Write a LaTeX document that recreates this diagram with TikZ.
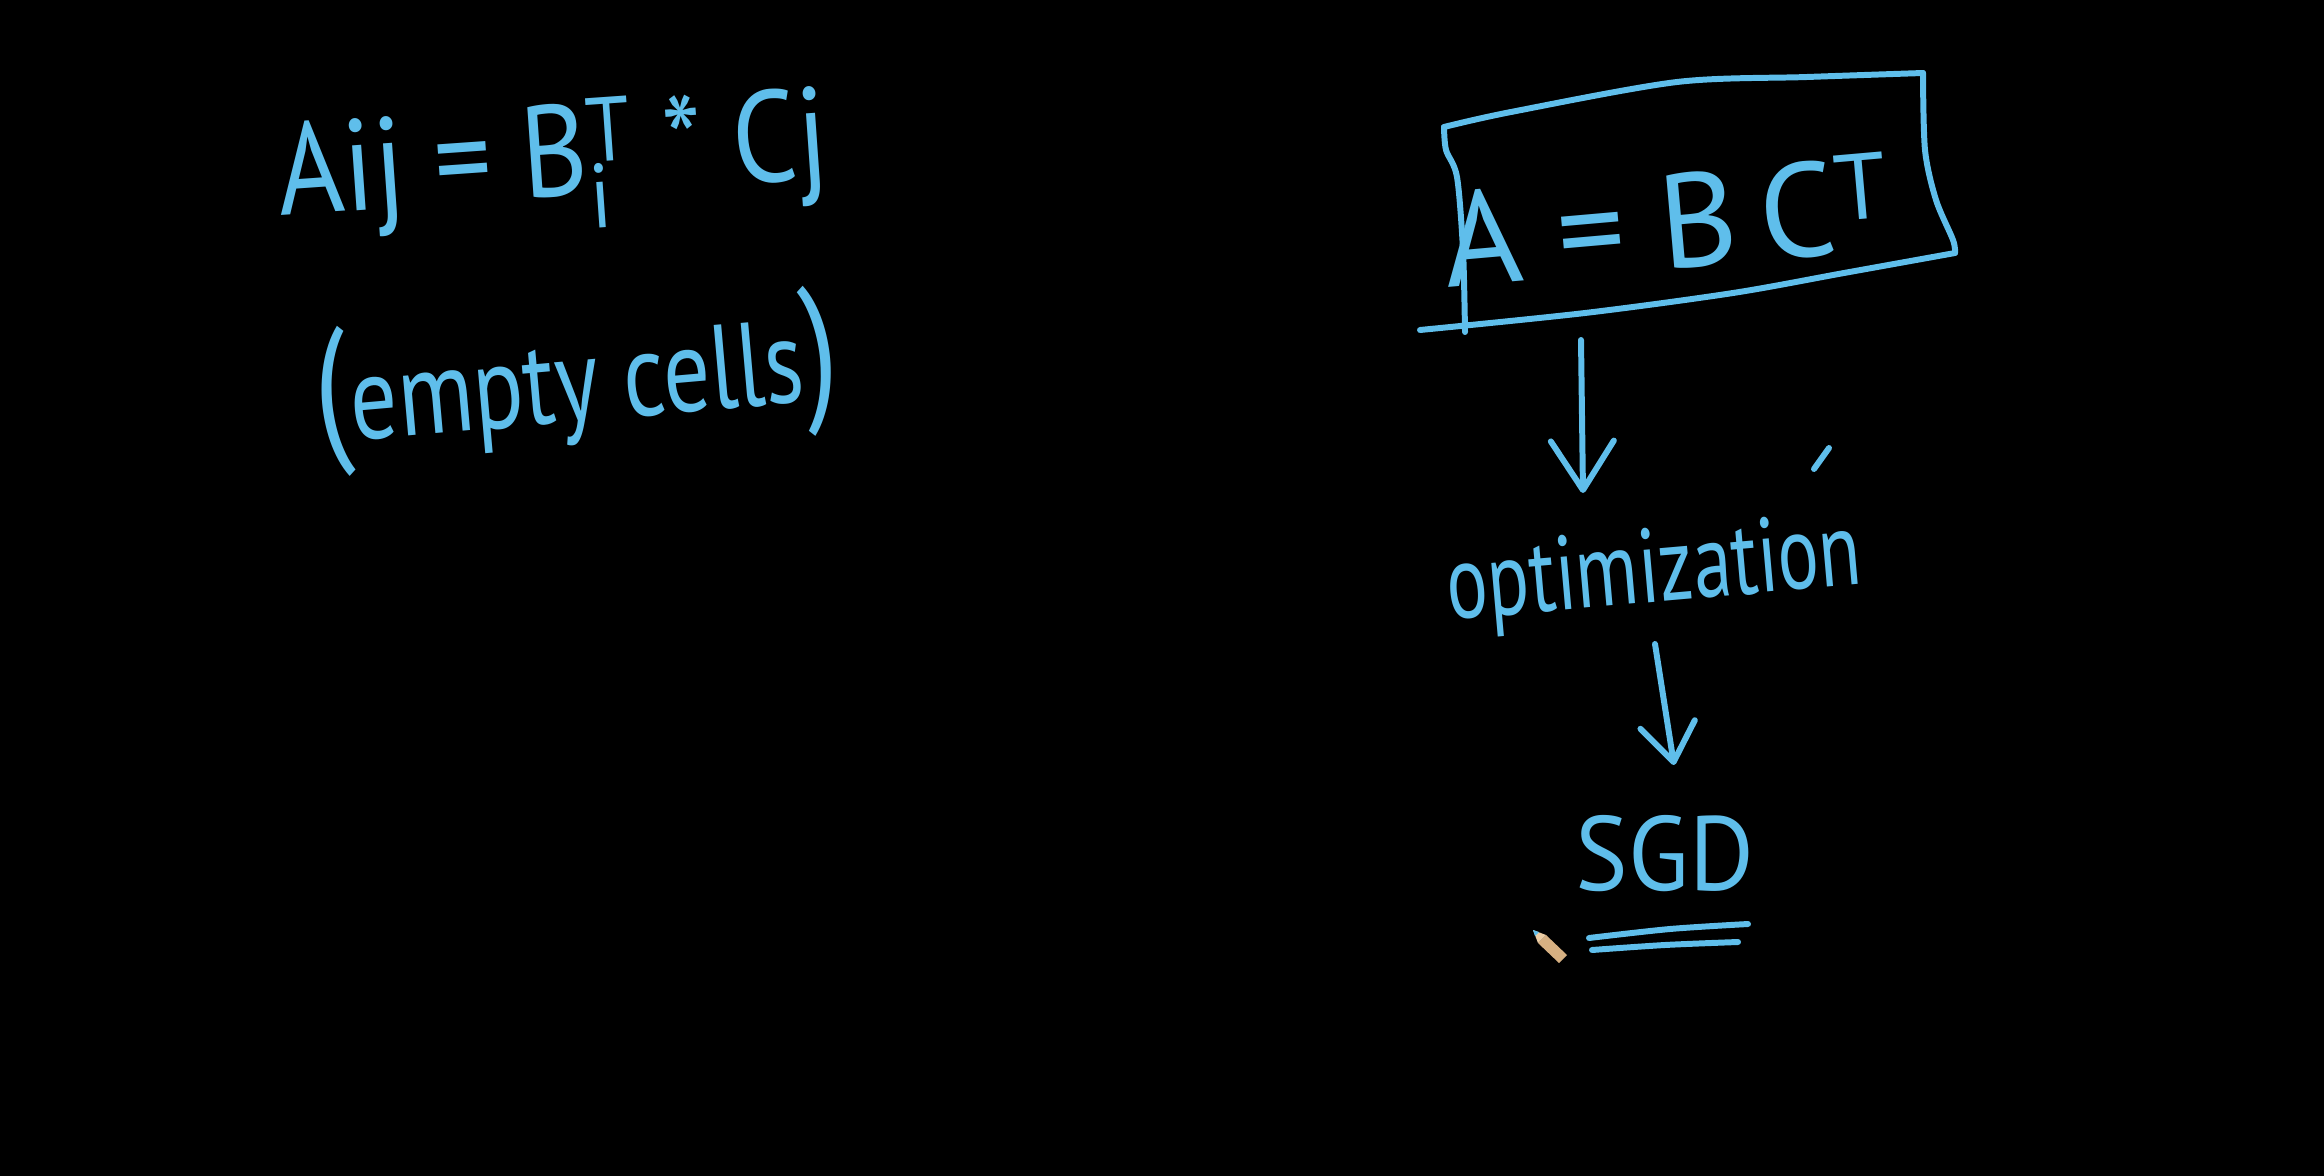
\documentclass[tikz,border=0pt]{standalone}
\usepackage{fontspec}
\setmainfont{PT Sans}
\usepackage{graphicx}
\usetikzlibrary{arrows.meta}
\definecolor{ink}{RGB}{95,190,235}
\definecolor{wood}{RGB}{214,176,130}
\definecolor{woodlight}{RGB}{236,205,165}
\begin{document}
\begin{tikzpicture}[x=0.01cm,y=-0.01cm,
  pen/.style={draw=ink,line width=1.7pt,line cap=round,line join=round},
  hand/.style={text=ink,inner sep=0pt,anchor=base west},
  barbA/.style={pen,-{Straight Barb[length=0.49cm,width=0.63cm,line cap=round,line join=round]}},
  barbB/.style={pen,-{Straight Barb[length=0.38cm,width=0.55cm,line cap=round,line join=round]}}]
\fill[black] (0,0) rectangle (2324,1176);
\useasboundingbox (0,0) rectangle (2324,1176);

% left formula
\node[hand,font=\fontsize{37}{37}\selectfont,rotate=4] (aij) at (280,216)
  {\scalebox{0.87}[1]{Aij = B\rlap{\textsubscript{i}}\textsuperscript{T} * Cj}};
\node[hand,font=\fontsize{34}{34}\selectfont,rotate=5] (cells) at (318,444)
  {\scalebox{0.78}[1]{{\fontsize{46}{46}\selectfont(}empty cells{\fontsize{46}{46}\selectfont)}}};

% boxed equation
\node[hand,font=\fontsize{38}{38}\selectfont,rotate=5] (abc) at (1447,288) {A = B\,C\textsuperscript{T}};
\draw[pen] plot[smooth] coordinates {(1444,127) (1511,112) (1677,82) (1807,77) (1923,73)};
\draw[pen] plot[smooth] coordinates {(1444,127) (1446,150) (1457,177) (1463,250) (1465,332)};
\draw[pen] plot[smooth] coordinates {(1923,73) (1925,150) (1936,200) (1953,240) (1955,253)};
\draw[pen] plot[smooth] coordinates {(1420,330) (1585,313) (1733,293) (1844,273) (1955,253)};

% optimization
\node[hand,font=\fontsize{30}{30}\selectfont,rotate=5] (opt) at (1449,620)
  {\scalebox{0.73}[1]{optimization}};
\draw[pen] (1814,469) -- (1829,448);

% SGD
\node[hand,font=\fontsize{30}{30}\selectfont] (sgd) at (1575,890) {\scalebox{0.94}[1]{SGD}};
\draw[pen] plot[smooth] coordinates {(1589,938) (1670,929) (1748,924)};
\draw[pen] plot[smooth] coordinates {(1592,950) (1665,945) (1738,942)};

% arrows
\coordinate (boxbottom) at (1581,340);
\coordinate (opttop) at (1583,493);
\coordinate (optbottom) at (1655,644);
\coordinate (sgdtop) at (1674,765);
\draw[barbA] (boxbottom) -- (opttop);
\draw[barbB] (optbottom) -- (sgdtop);

% pencil cursor
\fill[wood] (1538,943) -- (1546,935) -- (1567,955) -- (1559,963) -- cycle;
\fill[woodlight] (1533,930) -- (1546,935) -- (1538,943) -- cycle;
\fill[ink] (1533,930) -- (1539,932) -- (1535,936) -- cycle;
\end{tikzpicture}
\end{document}
